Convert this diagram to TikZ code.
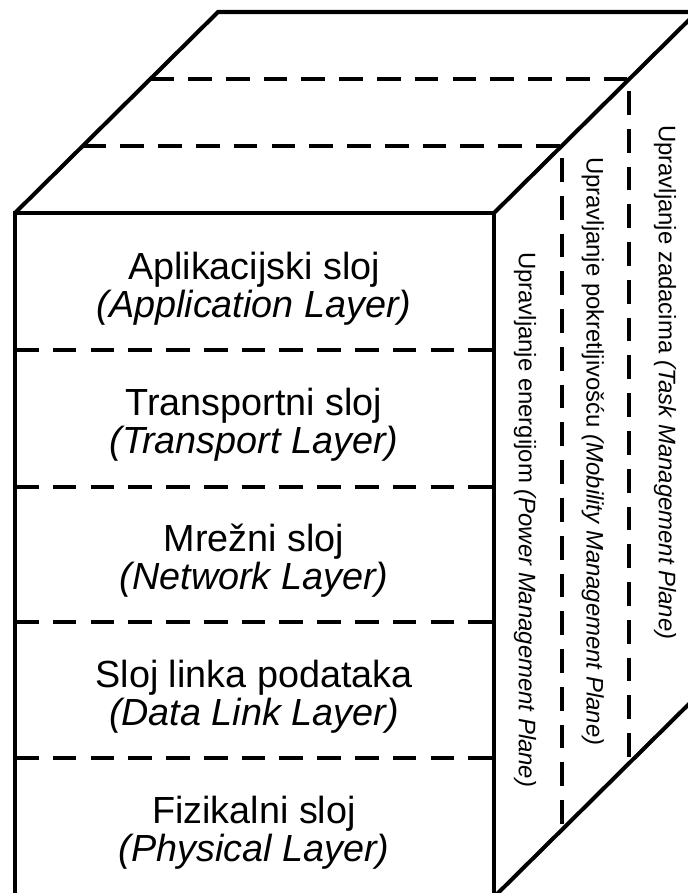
\documentclass[tikz,border=0pt]{standalone}
\usepackage{fontspec}
\setmainfont{Liberation Sans}
\usetikzlibrary{positioning,calc}

\begin{document}
\begin{tikzpicture}[x=0.02cm,y=-0.02cm,on grid,node distance=2.72cm,
    line width=2.3pt,
    sep/.style={dash pattern=on 13.5pt off 8pt},
    layer/.style={align=center,font=\fontsize{21.5}{21.5}\selectfont},
    plane/.style={rotate=-90,anchor=west,inner sep=0pt,
      font=\fontsize{13.6}{16}\selectfont}]
  \useasboundingbox (0,0) rectangle (688,893);
  \clip (0,0) rectangle (688,893);
  % corners of the box
  \coordinate (fnw) at (15,213);
  \coordinate (fne) at (494,213);
  \coordinate (fse) at (494,897);
  \coordinate (fsw) at (15,897);
  \coordinate (bnw) at (218,12);
  \coordinate (bne) at (697,12);
  \coordinate (bse) at (697,696);
  % outline
  \draw (fsw) -- (fnw) -- (fne) -- (fse) -- cycle;
  \draw (fnw) -- (bnw) -- (bne) -- (bse) -- (fse);
  \draw (fne) -- (bne);
  % layers
  \foreach \y in {350,487,622,758}
    \draw[sep] (15,\y) -- (494,\y);
  % planes
  \foreach \t in {1/3,2/3}
    \draw[sep] ($(fnw)!\t!(bnw)$) -- ($(fne)!\t!(bne)$) -- ($(fse)!\t!(bse)$);
  \node[layer] (app) at (254,289) {Aplikacijski sloj\\\textit{(Application Layer)}};
  \node[layer] (trans) [below=of app] {Transportni sloj\\\textit{(Transport Layer)}};
  \node[layer] (net) [below=of trans] {Mrežni sloj\\\textit{(Network Layer)}};
  \node[layer] (link) [below=of net] {Sloj linka podataka\\\textit{(Data Link Layer)}};
  \node[layer] (phy) [below=of link] {Fizikalni sloj\\\textit{(Physical Layer)}};
  \node[plane] (task) at (665,123) {Upravljanje zadacima \textit{(Task Management Plane)}};
  \node[plane] (mob) at (593,155) {Upravljanje pokretljivošću \textit{(Mobility Management Plane)}};
  \node[plane] (pow) at (525,250) {Upravljanje energijom \textit{(Power Management Plane)}};
\end{tikzpicture}
\end{document}
